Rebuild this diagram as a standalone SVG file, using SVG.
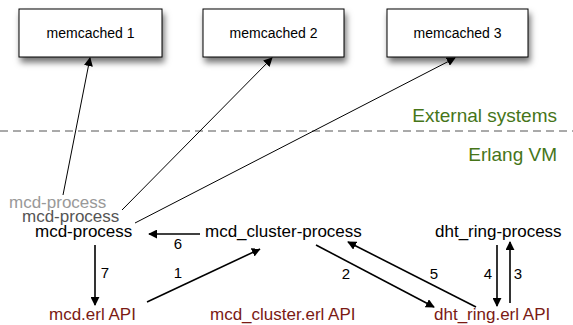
<svg xmlns="http://www.w3.org/2000/svg" width="573" height="325" viewBox="0 0 573 325">
<defs>
<filter id="sh" x="-20%" y="-30%" width="150%" height="180%">
<feDropShadow dx="2" dy="5" stdDeviation="3" flood-color="#000" flood-opacity="0.55"/>
</filter>
<marker id="ah" viewBox="0 0 10 10" refX="9" refY="5" markerWidth="9" markerHeight="9" markerUnits="userSpaceOnUse" orient="auto">
<path d="M0,0 L10,5 L0,10 z" fill="#000"/>
</marker>
</defs>
<style>
.box{fill:#fff;stroke:#000;stroke-width:1}
.bt{font-family:"Liberation Sans",Arial,sans-serif;font-size:14px;fill:#000;text-anchor:middle}
.t{font-family:"Liberation Sans",Arial,sans-serif;font-size:17px;fill:#000}
.api{font-family:"Liberation Sans",Arial,sans-serif;font-size:17px;fill:#7a1a14}
.g{font-family:"Liberation Sans",Arial,sans-serif;font-size:19px;fill:#467519;text-anchor:end}
.n{font-family:"Liberation Sans",Arial,sans-serif;font-size:15px;fill:#000;text-anchor:middle}
.c{stroke:#000;stroke-width:1.6;fill:none;marker-end:url(#ah)}
.c1{stroke:#000;stroke-width:1;fill:none;marker-end:url(#ah)}
</style>
<g id="memcached1"><rect class="box" x="19" y="9" width="143" height="48" filter="url(#sh)"/><text class="bt" x="90.5" y="38">memcached 1</text></g>
<g id="memcached2"><rect class="box" x="203" y="9" width="141" height="48" filter="url(#sh)"/><text class="bt" x="273.5" y="38">memcached 2</text></g>
<g id="memcached3"><rect class="box" x="387" y="9" width="141" height="48" filter="url(#sh)"/><text class="bt" x="457.5" y="38">memcached 3</text></g>
<g id="boundary">
<line x1="0" y1="131" x2="573" y2="131" stroke="#555" stroke-width="1" stroke-dasharray="8,5"/>
<text class="g" x="557" y="122">External systems</text>
<text class="g" x="557" y="161">Erlang VM</text>
</g>
<g id="mcd-process">
<text class="t" x="9" y="208" fill="#999" style="fill:#999">mcd-process</text>
<text class="t" x="22" y="222" style="fill:#555">mcd-process</text>
<text class="t" x="35" y="237">mcd-process</text>
</g>
<g id="mcd_cluster-process"><text class="t" x="205" y="237">mcd_cluster-process</text></g>
<g id="dht_ring-process"><text class="t" x="435" y="237">dht_ring-process</text></g>
<g id="mcd-api"><text class="api" x="49" y="320">mcd.erl API</text></g>
<g id="mcd_cluster-api"><text class="api" x="210" y="320">mcd_cluster.erl API</text></g>
<g id="dht_ring-api"><text class="api" x="434" y="320">dht_ring.erl API</text></g>
<g id="connectors">
<line class="c1" x1="63" y1="195" x2="90" y2="58"/>
<line class="c1" x1="122" y1="210" x2="272" y2="58"/>
<line class="c1" x1="135" y1="223" x2="455" y2="58"/>
<line class="c" x1="200" y1="234" x2="149" y2="234"/>
<line class="c" x1="95" y1="245" x2="95" y2="305"/>
<line class="c" x1="147" y1="302" x2="260" y2="249"/>
<line class="c" x1="316" y1="245" x2="434" y2="307"/>
<line class="c" x1="476" y1="307" x2="348" y2="242"/>
<line class="c" x1="497" y1="245" x2="497" y2="306"/>
<line class="c" x1="510" y1="303" x2="510" y2="242"/>
<text class="n" x="178" y="249">6</text>
<text class="n" x="105" y="278">7</text>
<text class="n" x="178" y="278">1</text>
<text class="n" x="346" y="279">2</text>
<text class="n" x="434" y="279">5</text>
<text class="n" x="488" y="279">4</text>
<text class="n" x="518" y="279">3</text>
</g>
</svg>
